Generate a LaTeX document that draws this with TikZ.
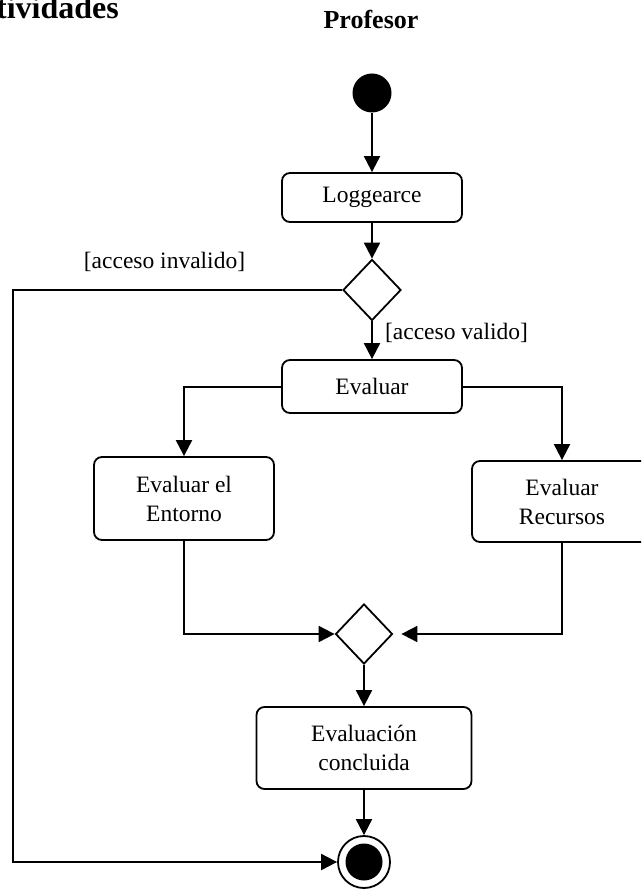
\documentclass[tikz,border=0pt]{standalone}
\usepackage{fontspec}
\setmainfont{Liberation Serif}
\usetikzlibrary{shapes.geometric,arrows.meta}
\begin{document}
\begin{tikzpicture}[x=1pt,y=-1pt,
  flow/.style={line width=2pt,-{Triangle[length=16pt,width=16pt]}},
  activity/.style={draw,line width=1.8pt,rounded corners=8pt,inner sep=0pt,align=center,
    font=\fontsize{23.5}{29}\selectfont,minimum width=180pt},
  decision/.style={draw,diamond,line width=1.8pt,inner sep=0pt,minimum width=58pt,minimum height=61pt},
  guard/.style={font=\fontsize{23.5}{29}\selectfont,inner sep=0pt},
  heading/.style={font=\fontsize{26}{30}\selectfont\bfseries,inner sep=0pt}]
\useasboundingbox (0,0) rectangle (641,890);
\clip (0,0) rectangle (641,890);

% headings
\node[heading,font=\fontsize{32}{36}\selectfont\bfseries,anchor=base east] (title) at (119,19) {Actividades};
\node[heading] (lane) at (371,19) {Profesor};

% nodes
\node[circle,fill=black,minimum size=39pt,inner sep=0pt] (start) at (372,93) {};
\node[activity,minimum height=49pt] (log) at (372,197.5) {Loggearce};
\node[decision] (d1) at (372,290) {};
\node[activity,minimum height=53pt] (eval) at (372,386.5) {Evaluar};
\node[activity,minimum height=83pt] (ent) at (184,498.5) {Evaluar el\\Entorno};
\node[activity,minimum height=81pt] (rec) at (562,501.5) {Evaluar\\Recursos};
\node[decision,minimum width=57pt,minimum height=60pt] (d2) at (364,634) {};
\node[activity,minimum width=215pt,minimum height=82pt] (conc) at (364,748) {Evaluación\\concluida};
\node[circle,draw,line width=1.8pt,minimum size=52pt,inner sep=0pt] (fin) at (364,862) {};
\node[circle,fill=black,minimum size=37pt,inner sep=0pt] (findot) at (fin.center) {};

% guard labels
\node[guard] (gInv) at (164.5,262) {[acceso invalido]};
\node[guard] (gVal) at (456.5,333) {[acceso valido]};

% corner points of the rejection path
\coordinate (cl) at (13,290);
\coordinate (cb) at (13,862);

% connectors
\draw[flow] (start) -- (log);
\draw[flow] (log) -- (d1);
\draw[flow] (d1) -- (eval);
\draw[flow] (d1.west) -- (cl) -- (cb) -- (fin.west);
\draw[flow] (eval.west) -| (ent.north);
\draw[flow] (eval.east) -| (rec.north);
\draw[flow] (ent.south) |- (d2.west);
\draw[flow,shorten >=8pt] (rec.south) |- (d2.east);
\draw[flow] (d2) -- (conc);
\draw[flow] (conc) -- (fin);
\end{tikzpicture}
\end{document}
